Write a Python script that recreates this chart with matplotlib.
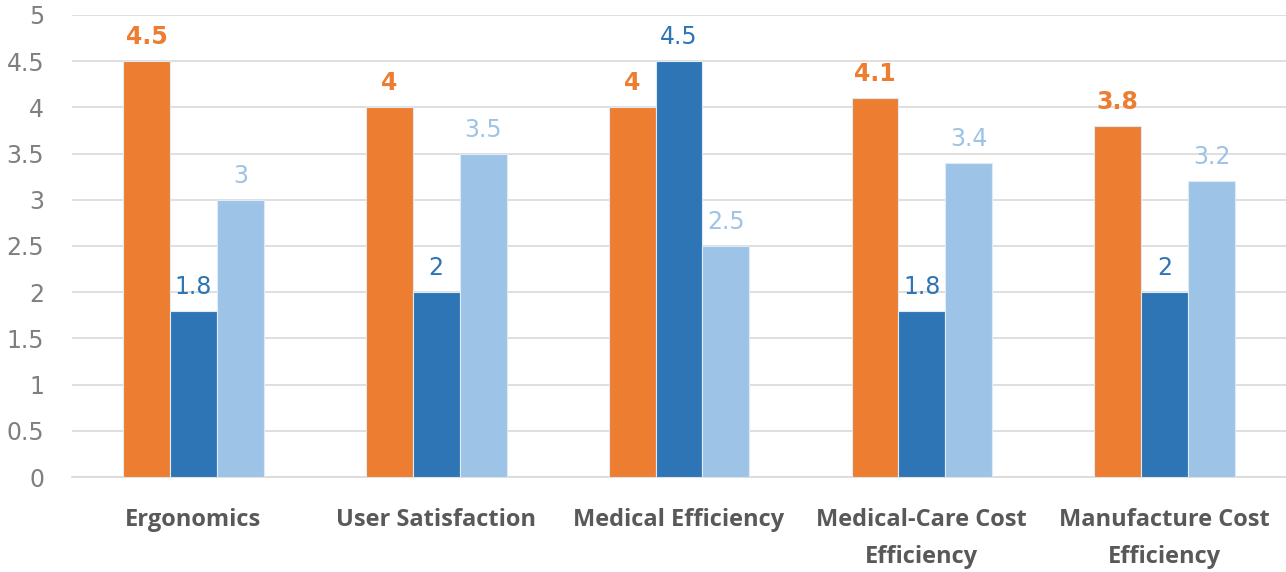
import numpy as np
import matplotlib.pyplot as plt

plt.rcParams['font.family'] = ['Open Sans', 'DejaVu Sans']

categories = ['Ergonomics', 'User Satisfaction', 'Medical Efficiency',
              'Medical-Care Cost\nEfficiency', 'Manufacture Cost\nEfficiency']
series_a = [4.5, 4, 4, 4.1, 3.8]
series_b = [1.8, 2, 4.5, 1.8, 2]
series_c = [3, 3.5, 2.5, 3.4, 3.2]
yticks = [0, 0.5, 1, 1.5, 2, 2.5, 3, 3.5, 4, 4.5, 5]
ytick_labels = ['0', '0.5', '1', '1.5', '2', '2.5', '3', '3.5', '4', '4.5', '5']

c_orange = '#ED7D31'
c_blue = '#2E75B6'
c_light = '#9DC3E6'

fig = plt.figure(figsize=(12.86, 5.72), dpi=100)
ax = fig.add_axes([0.056, 0.166, 0.944, 0.808])

x = np.arange(len(categories))
w = 0.193
series = [(series_a, c_orange, 'bold'), (series_b, c_blue, 'normal'), (series_c, c_light, 'normal')]
for i, (vals, col, wt) in enumerate(series):
    pos = x + (i - 1) * w
    ax.bar(pos, vals, width=w, color=col, edgecolor='#DDEBF7', linewidth=0.8, zorder=3)
    for px, v in zip(pos, vals):
        ax.text(px, v + 0.13, f'{v:g}', ha='center', va='bottom', color=col,
                fontsize=17, fontweight=wt, family=['DejaVu Sans'])

ax.set_xlim(-0.5, len(categories) - 0.5)
ax.set_ylim(0, 5)
ax.set_yticks(yticks)
ax.set_yticklabels(ytick_labels, family=['DejaVu Sans'])
ax.tick_params(axis='y', length=0, labelsize=17, labelcolor='#7F7F7F', pad=20)
ax.set_xticks(x)
ax.set_xticklabels(categories, fontsize=17, fontweight='bold', color='#595959', linespacing=1.75)
ax.tick_params(axis='x', length=0, pad=22)
ax.grid(axis='y', color='#D9D9D9', linewidth=1.2, zorder=0)
for s in ['left', 'right', 'top']:
    ax.spines[s].set_visible(False)
ax.spines['bottom'].set_color('#D9D9D9')
ax.spines['bottom'].set_linewidth(1.2)

plt.savefig('out.png', dpi=100)
